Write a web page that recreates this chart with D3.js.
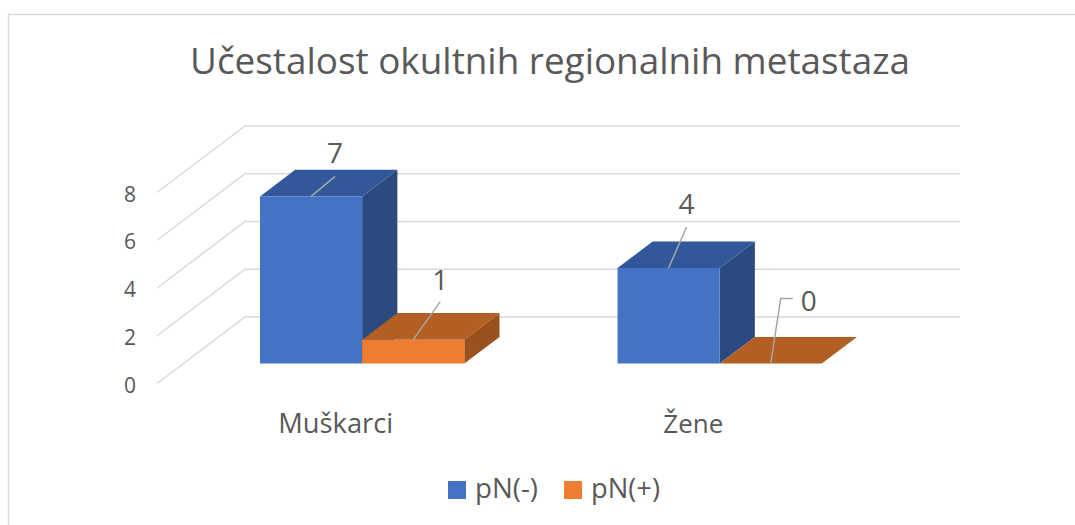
<!DOCTYPE html>
<html>
<head>
<meta charset="utf-8">
<script src="https://cdn.jsdelivr.net/npm/d3@7"></script>
<style>
  html, body { margin: 0; padding: 0; background: #fff; }
  svg { display: block; }
  text { font-family: "Open Sans", "Noto Sans", sans-serif; fill: #595959; }
</style>
</head>
<body>
<svg id="chart" width="1075" height="525"></svg>
<script>
// ---- data ----
const title = "Učestalost okultnih regionalnih metastaza";
const categories = ["Muškarci", "Žene"];
const seriesNames = ["pN(-)", "pN(+)"];
const valuesNeg = [7, 4];
const valuesPos = [1, 0];
const yTicks = [0, 2, 4, 6, 8];

// ---- styles ----
const colors = {
  "pN(-)": { front: "#4472C4", top: "#32579A", side: "#2A4A80" },
  "pN(+)": { front: "#ED7D31", top: "#B35E22", side: "#9B511D" }
};
const gridColor = "#d9d9d9";
const leaderColor = "#a6a6a6";

const svg = d3.select("#chart");

// chart border
svg.append("rect").attr("x", 8.5).attr("y", 14.5).attr("width", 1200).attr("height", 600)
  .attr("fill", "none").attr("stroke", gridColor).attr("stroke-width", 1.5);

// ---- scales (back wall plane + depth projection) ----
const x0 = d3.scaleBand().domain(categories).range([245, 960]).paddingInner(0).paddingOuter(0);
const x1 = d3.scaleBand().domain(seriesNames).range([0, x0.bandwidth()]).paddingInner(0).paddingOuter(0.75);
const y = d3.scaleLinear().domain([0, 8]).range([317, 126]);
const dx = d3.scaleLinear().domain([0, 1]).range([0, -88]);   // depth: 0 = back wall, 1 = front
const dy = d3.scaleLinear().domain([0, 1]).range([0, 66.5]);
const P = (xx, v, d) => [xx + dx(d), y(v) + dy(d)];
const barBack = 0.3, barFront = 0.7;

// ---- gridlines ----
const grid = svg.append("g").attr("stroke", gridColor).attr("stroke-width", 1.5).attr("fill", "none");
yTicks.forEach(t => {
  const [xa, ya] = P(x0.range()[0], t, 0);
  const [xb, yb] = P(x0.range()[1], t, 0);
  const [xc, yc] = P(x0.range()[0], t, 1);
  grid.append("path").attr("d", `M${xc},${yc}L${xa},${ya}L${xb},${yb}`);
});

// tick labels
svg.append("g").selectAll("text").data(yTicks).join("text")
  .attr("x", d => P(x0.range()[0], d, 1)[0] - 21)
  .attr("y", d => P(x0.range()[0], d, 1)[1] + 1)
  .attr("text-anchor", "end").attr("dominant-baseline", "central")
  .attr("font-size", 21).text(d => d);

// ---- bars ----
const bars = [];
categories.forEach((c, i) => {
  bars.push({ cat: c, series: "pN(-)", value: valuesNeg[i] });
  bars.push({ cat: c, series: "pN(+)", value: valuesPos[i] });
});
const poly = pts => "M" + pts.map(p => p.join(",")).join("L") + "Z";
const gBars = svg.append("g");
bars.forEach(b => {
  const xl = x0(b.cat) + x1(b.series);
  const xr = xl + x1.bandwidth();
  const col = colors[b.series];
  const g = gBars.append("g");
  // right side
  g.append("path").attr("fill", col.side).attr("d", poly([
    P(xr, 0, barFront), P(xr, 0, barBack), P(xr, b.value, barBack), P(xr, b.value, barFront)]));
  // top
  g.append("path").attr("fill", col.top).attr("d", poly([
    P(xl, b.value, barFront), P(xr, b.value, barFront), P(xr, b.value, barBack), P(xl, b.value, barBack)]));
  // front
  g.append("path").attr("fill", col.front).attr("d", poly([
    P(xl, 0, barFront), P(xr, 0, barFront), P(xr, b.value, barFront), P(xl, b.value, barFront)]));
  b.anchor = P((xl + xr) / 2, b.value, barFront);
});

// ---- data labels with leader lines ----
const labelOffsets = [
  { line: [[24, -20]], text: [24, -33], anchor: "middle" },
  { line: [[27, -38]], text: [27, -50], anchor: "middle" },
  { line: [[18, -41]], text: [18, -54], anchor: "middle" },
  { line: [[10, -65], [22, -65]], text: [30, -53], anchor: "start" }
];
const gLab = svg.append("g");
bars.forEach((b, i) => {
  const o = labelOffsets[i];
  const [ax, ay] = b.anchor;
  const pts = [[ax, ay]].concat(o.line.map(p => [ax + p[0], ay + p[1]]));
  gLab.append("path").attr("d", "M" + pts.map(p => p.join(",")).join("L"))
    .attr("fill", "none").attr("stroke", leaderColor).attr("stroke-width", 1.5);
  gLab.append("text").attr("x", ax + o.text[0]).attr("y", ay + o.text[1])
    .attr("text-anchor", o.anchor).attr("font-size", 28).text(b.value);
});

// ---- category labels ----
function fit(sel, target) {
  const w = sel.node().getComputedTextLength();
  const fs = parseFloat(sel.attr("font-size"));
  sel.attr("font-size", fs * target / w);
}
const catWidths = [115, 60];
categories.forEach((c, i) => {
  const t = svg.append("text")
    .attr("x", P(x0(c) + x0.bandwidth() / 2, 0, 1)[0])
    .attr("y", 433).attr("text-anchor", "middle").attr("font-size", 26).text(c);
  fit(t, catWidths[i]);
});

// ---- title ----
const tt = svg.append("text").attr("x", 550).attr("y", 74).attr("text-anchor", "middle")
  .attr("font-size", 32).text(title);
fit(tt, 720);

// ---- legend ----
const legendX = [448, 564];
const lg = svg.append("g");
seriesNames.forEach((s, i) => {
  lg.append("rect").attr("x", legendX[i]).attr("y", 481).attr("width", 18).attr("height", 18)
    .attr("fill", colors[s].front);
  const t = lg.append("text").attr("x", legendX[i] + 27).attr("y", 498).attr("font-size", 23).text(s);
  fit(t, i === 0 ? 63 : 69);
});
</script>
</body>
</html>
